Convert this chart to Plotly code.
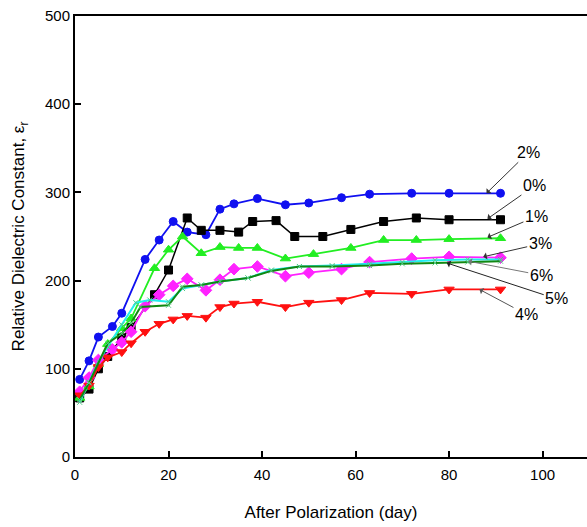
import plotly.graph_objects as go

# ---- data ----
days_2 = [1, 3, 5, 8, 10, 15, 18, 21, 24, 28, 31, 34, 39, 45, 50, 57, 63, 72, 80, 91]
vals_2 = [88, 109, 136, 148, 163, 224, 246, 267, 255, 252, 281, 287, 293, 286, 288, 294, 298, 299, 299, 299]

days_0 = [1, 3, 5, 7, 10, 12, 17, 20, 24, 27, 31, 35, 38, 43, 47, 53, 59, 66, 73, 80, 91]
vals_0 = [67, 77, 100, 114, 135, 147, 184, 212, 271, 257, 257, 255, 267, 268, 250, 250, 258, 267, 271, 269, 269]

days_1 = [1, 3, 5, 7, 10, 12, 17, 20, 23, 27, 31, 35, 39, 45, 51, 59, 66, 73, 80, 91]
vals_1 = [67, 80, 105, 128, 146, 157, 214, 235, 250, 231, 238, 237, 237, 225, 230, 237, 246, 246, 247, 248]

days_3 = [1, 3, 5, 8, 10, 12, 15, 18, 21, 24, 28, 31, 34, 39, 45, 50, 57, 63, 72, 80, 91]
vals_3 = [74, 90, 110, 122, 130, 142, 171, 184, 194, 202, 189, 201, 213, 216, 205, 209, 213, 221, 225, 227, 226]

days_4 = [1, 3, 5, 7, 10, 12, 15, 18, 21, 24, 28, 31, 34, 39, 45, 50, 57, 63, 72, 80, 91]
vals_4 = [70, 81, 102, 113, 119, 129, 142, 151, 156, 160, 158, 170, 174, 176, 170, 175, 178, 186, 185, 190, 190]

days_5 = [1, 3, 7, 10, 12, 14, 20, 23, 27, 31, 37, 42, 48, 55, 63, 70, 77, 84, 91]
vals_5 = [65, 84, 129, 140, 152, 170, 172, 193, 195, 199, 203, 211, 216, 216, 217, 219, 220, 221, 222]

days_6 = [1, 3, 5, 7, 10, 13, 16, 20, 23, 27, 31, 37, 42, 48, 55, 63, 70, 77, 84, 91]
vals_6 = [62, 85, 108, 125, 150, 175, 178, 176, 191, 195, 199, 203, 212, 216, 217, 219, 221, 223, 224, 224]

series = [
    ("2%", days_2, vals_2, "#1010f0", "circle", 8, 1.8),
    ("0%", days_0, vals_0, "#000000", "square", 8, 1.5),
    ("1%", days_1, vals_1, "#22ee22", "triangle-up", 9, 1.8),
    ("3%", days_3, vals_3, "#ff22ff", "diamond", 9, 1.8),
    ("4%", days_4, vals_4, "#ff1010", "triangle-down", 9, 1.8),
    ("6%", days_6, vals_6, "#22eeee", "x-thin", 5, 2.0),
    ("5%", days_5, vals_5, "#118811", "x-thin", 5, 2.0),
]

fig = go.Figure()
for name, xs, ys, col, sym, sz, lw in series:
    fig.add_trace(go.Scatter(
        x=xs, y=ys, mode="lines+markers", name=name,
        line=dict(color=col, width=lw),
        marker=dict(symbol=sym, size=sz, color=col,
                    line=dict(color=("#55cc88" if sym == "x-thin" else col), width=1)),
        showlegend=False,
    ))

# labels with arrows: (label, head_x, head_y, text offset ax, ay in px, arrow colour)
labels = [
    ("2%", 88, 299, 42, -41, "#333333"),
    ("0%", 88.2, 270, 47, -33, "#333333"),
    ("1%", 88.2, 249, 49, -21, "#333333"),
    ("3%", 87.3, 227, 57, -13, "#333333"),
    ("6%", 84.1, 222, 73, 14, "#777777"),
    ("5%", 79.5, 220, 110, 36, "#222222"),
    ("4%", 86.5, 190, 47, 25, "#555555"),
]
for lab, hx, hy, axp, ayp, ac in labels:
    fig.add_annotation(x=hx, y=hy, ax=axp, ay=ayp, text=lab, showarrow=True,
                       arrowhead=1, arrowsize=1.2, arrowwidth=1, arrowcolor=ac,
                       font=dict(family="Liberation Sans, Arial", size=16, color="black"))

fig.update_layout(
    width=587, height=527,
    margin=dict(l=75, r=0, t=16, b=70),
    paper_bgcolor="white", plot_bgcolor="white",
    font=dict(family="Liberation Sans, Arial", size=14, color="black"),
)
fig.update_xaxes(
    range=[0, 109.5], tickvals=[0, 20, 40, 60, 80, 100],
    ticks="inside", ticklen=6, tickwidth=1.5, tickcolor="black",
    showline=True, linecolor="black", linewidth=2, mirror=True,
    showgrid=False, zeroline=False, ticklabelstandoff=3,
    tickfont=dict(size=15),
    title=dict(text="After Polarization (day)", font=dict(size=17), standoff=24),
)
fig.update_yaxes(
    range=[0, 500], tickvals=[0, 100, 200, 300, 400, 500],
    ticks="inside", ticklen=6, tickwidth=1.5, tickcolor="black",
    showline=True, linecolor="black", linewidth=2,
    showgrid=False, zeroline=False,
    tickfont=dict(size=15),
    title=dict(text="Relative Dielectric Constant, ε<sub>r</sub>", font=dict(size=17), standoff=16),
)

fig.write_html("out.html")
